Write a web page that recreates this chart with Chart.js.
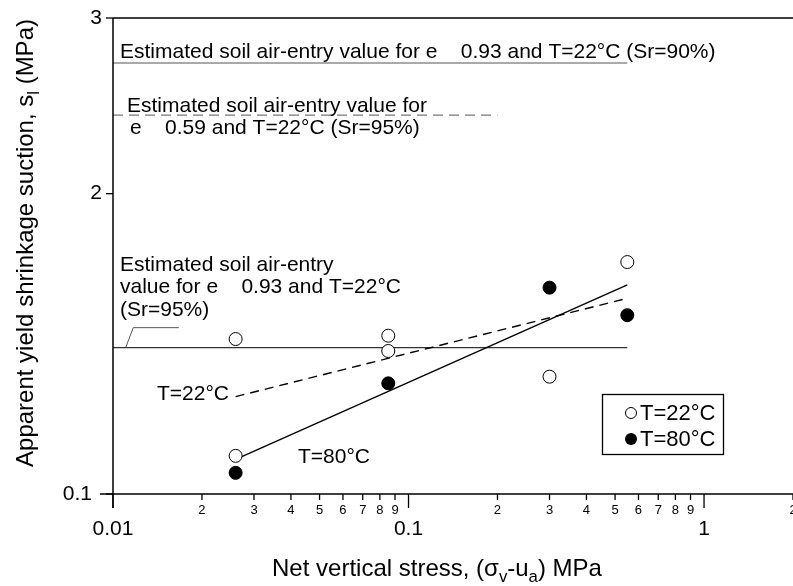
<!DOCTYPE html>
<html>
<head>
<meta charset="utf-8">
<script src="https://cdn.jsdelivr.net/npm/chart.js@4"></script>
<style>
  body { margin: 0; background: #fff; }
  #wrap { width: 793px; height: 586px; position: relative; }
</style>
</head>
<body>
<div id="wrap"><canvas id="myChart"></canvas></div>
<script>
// measured points
var open22X = [0.026, 0.026, 0.0854, 0.0854, 0.30, 0.55];
var open22Y = [1.43, 1.092, 1.441, 1.391, 1.311, 1.708];
var fill80X = [0.026, 0.0854, 0.30, 0.55];
var fill80Y = [1.050, 1.291, 1.610, 1.511];

// fitted lines
var fit22X = [0.026, 0.55];
var fit22Y = [1.252, 1.571];
var fit80X = [0.026, 0.55];
var fit80Y = [1.083, 1.62];

// air-entry reference lines
var ref90X = [0.01, 0.55];
var ref90Y = [2.704, 2.704];
var ref59X = [0.01, 0.2];
var ref59Y = [2.398, 2.398];
var ref93X = [0.01, 0.55];
var ref93Y = [1.402, 1.402];
var leaderX = [0.01104, 0.01171, 0.0167];
var leaderY = [1.402, 1.468, 1.468];

// axes
var xMajor = [0.01, 0.1, 1];
var xMajorLabels = ['0.01', '0.1', '1'];
var xMinor = [0.02, 0.03, 0.04, 0.05, 0.06, 0.07, 0.08, 0.09,
              0.2, 0.3, 0.4, 0.5, 0.6, 0.7, 0.8, 0.9, 2];
var xMinorLabels = ['2','3','4','5','6','7','8','9','2','3','4','5','6','7','8','9','2'];
var yTicks = [1, 2, 3];
var yTickLabels = ['0.1', '2', '3'];

function pts(xs, ys) {
  return xs.map(function (x, i) { return { x: x, y: ys[i] }; });
}

var FONT = '"Liberation Sans", Arial, sans-serif';

// text with subscript pieces
function runsWidth(ctx, runs, size) {
  var w = 0;
  runs.forEach(function (r) {
    ctx.font = (r.sub ? size * 0.7 : size) + 'px ' + FONT;
    w += ctx.measureText(r.t).width;
  });
  return w;
}
function drawRuns(ctx, runs, x, y, size) {
  runs.forEach(function (r) {
    ctx.font = (r.sub ? size * 0.7 : size) + 'px ' + FONT;
    ctx.fillText(r.t, x, r.sub ? y + size * 0.25 : y);
    x += ctx.measureText(r.t).width;
  });
}

var decor = {
  id: 'decor',
  afterDraw: function (chart) {
    var ctx = chart.ctx;
    var xs = chart.scales.x, ys = chart.scales.y;
    var a = chart.chartArea;
    ctx.save();
    ctx.strokeStyle = '#000';
    ctx.fillStyle = '#000';
    ctx.lineWidth = 1.5;

    // axis lines
    ctx.beginPath();
    ctx.moveTo(a.left - 13, a.bottom); ctx.lineTo(a.right, a.bottom);
    ctx.moveTo(a.left, a.top); ctx.lineTo(a.left, a.bottom + 14);
    ctx.moveTo(a.left, a.top); ctx.lineTo(a.right, a.top);
    ctx.stroke();

    // x ticks
    ctx.lineWidth = 1.3;
    ctx.textAlign = 'center';
    ctx.textBaseline = 'alphabetic';
    xMinor.forEach(function (v, i) {
      var px = xs.getPixelForValue(v);
      ctx.beginPath(); ctx.moveTo(px, a.bottom); ctx.lineTo(px, a.bottom + 6); ctx.stroke();
      ctx.font = '13px ' + FONT;
      ctx.fillText(xMinorLabels[i], px, a.bottom + 20);
    });
    xMajor.forEach(function (v, i) {
      var px = xs.getPixelForValue(v);
      ctx.beginPath(); ctx.moveTo(px, a.bottom); ctx.lineTo(px, a.bottom + 14); ctx.stroke();
      ctx.font = '21px ' + FONT;
      ctx.fillText(xMajorLabels[i], px, a.bottom + 41);
    });

    // y ticks
    ctx.textAlign = 'right';
    ctx.textBaseline = 'middle';
    ctx.font = '21px ' + FONT;
    yTicks.forEach(function (v, i) {
      var py = ys.getPixelForValue(v);
      ctx.beginPath(); ctx.moveTo(a.left - 7, py); ctx.lineTo(a.left, py); ctx.stroke();
      ctx.fillText(yTickLabels[i], i === 0 ? a.left - 21 : a.left - 11, py);
    });

    // axis titles
    ctx.textBaseline = 'alphabetic';
    ctx.textAlign = 'left';
    var xt = [{t: 'Net vertical stress, (σ'}, {t: 'v', sub: true}, {t: '-u'}, {t: 'a', sub: true}, {t: ') MPa'}];
    var w = runsWidth(ctx, xt, 24);
    drawRuns(ctx, xt, 437 - w / 2, 576, 24);

    var yt = [{t: 'Apparent yield shrinkage suction, s'}, {t: 'l', sub: true}, {t: ' (MPa)'}];
    ctx.save();
    ctx.translate(33, 243);
    ctx.rotate(-Math.PI / 2);
    w = runsWidth(ctx, yt, 24);
    drawRuns(ctx, yt, -w / 2, 0, 24);
    ctx.restore();

    // annotations
    ctx.font = '21px ' + FONT;
    ctx.fillText('Estimated soil air-entry value for e    0.93 and T=22°C (Sr=90%)', 120, 58);
    ctx.fillText('Estimated soil air-entry value for', 127, 112);
    ctx.fillText('e    0.59 and T=22°C (Sr=95%)', 130, 134);
    ctx.fillText('Estimated soil air-entry', 120, 271);
    ctx.fillText('value for e    0.93 and T=22°C', 120, 293);
    ctx.fillText('(Sr=95%)', 120, 316);
    ctx.fillText('T=22°C', 157, 400);
    ctx.fillText('T=80°C', 298, 463);

    // legend
    ctx.lineWidth = 1.3;
    ctx.strokeRect(602.5, 394.5, 121, 60);
    ctx.beginPath(); ctx.arc(631, 413, 5.5, 0, Math.PI * 2);
    ctx.fillStyle = '#fff'; ctx.fill(); ctx.lineWidth = 1; ctx.stroke();
    ctx.beginPath(); ctx.arc(631, 439, 6, 0, Math.PI * 2);
    ctx.fillStyle = '#000'; ctx.fill();
    ctx.font = '22px ' + FONT;
    ctx.fillText('T=22°C', 640, 420);
    ctx.fillText('T=80°C', 640, 446);
    ctx.restore();
  }
};

var ctx = document.getElementById('myChart');
var myChart = new Chart(ctx, {
  type: 'scatter',
  data: {
    datasets: [
      { label: 'T=22°C', data: pts(open22X, open22Y), pointRadius: 6.5,
        backgroundColor: '#fff', borderColor: '#000', borderWidth: 1 },
      { label: 'T=80°C', data: pts(fill80X, fill80Y), pointRadius: 6.5,
        backgroundColor: '#000', borderColor: '#000', borderWidth: 1 },
      { data: pts(fit22X, fit22Y), showLine: true, pointRadius: 0, borderColor: '#000',
        borderWidth: 1.4, borderDash: [9, 6] },
      { data: pts(fit80X, fit80Y), showLine: true, pointRadius: 0, borderColor: '#000',
        borderWidth: 1.4 },
      { data: pts(ref90X, ref90Y), showLine: true, pointRadius: 0, borderColor: '#555',
        borderWidth: 1.2 },
      { data: pts(ref59X, ref59Y), showLine: true, pointRadius: 0, borderColor: '#777',
        borderWidth: 1.2, borderDash: [10, 6] },
      { data: pts(ref93X, ref93Y), showLine: true, pointRadius: 0, borderColor: '#333',
        borderWidth: 1.2 },
      { data: pts(leaderX, leaderY), showLine: true, pointRadius: 0, borderColor: '#555',
        borderWidth: 1 }
    ]
  },
  options: {
    responsive: true,
    maintainAspectRatio: false,
    animation: false,
    layout: { autoPadding: false, padding: { top: 18, left: 0, right: 0, bottom: 0 } },
    plugins: { legend: { display: false }, tooltip: { enabled: false } },
    scales: {
      x: {
        type: 'logarithmic', min: 0.01, max: 2,
        grid: { display: false }, border: { display: false },
        ticks: { display: false },
        afterFit: function (s) { s.height = 92; }
      },
      y: {
        type: 'logarithmic', min: 1, max: 3,
        grid: { display: false }, border: { display: false },
        ticks: { display: false },
        afterFit: function (s) { s.width = 113; }
      }
    }
  },
  plugins: [decor]
});
</script>
</body>
</html>
